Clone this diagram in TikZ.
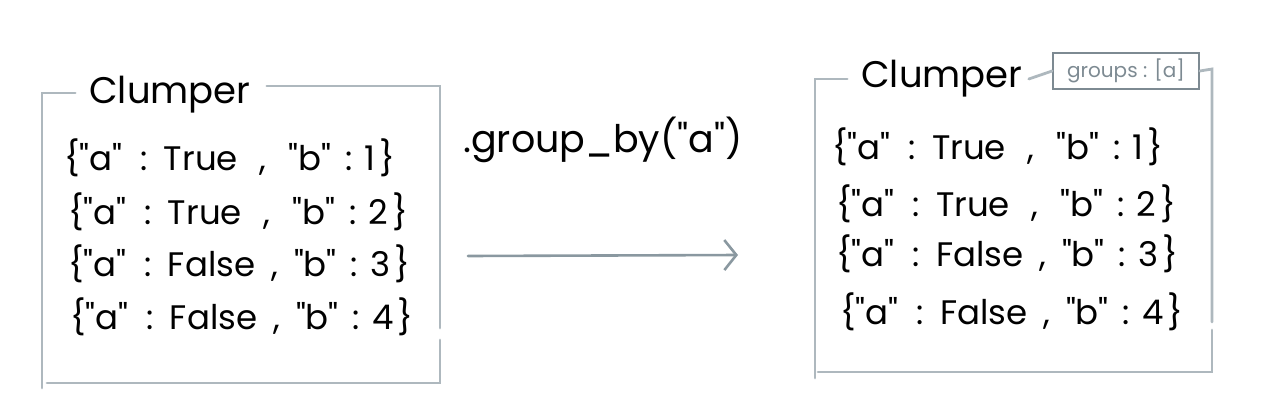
\documentclass[tikz,border=0pt]{standalone}
\usepackage{fontspec}
\setmainfont{Poppins}[Ligatures=TeXOff]
\usetikzlibrary{arrows.meta}
\definecolor{boxgray}{HTML}{AEB8BE}
\definecolor{arrgray}{HTML}{8A98A0}
\definecolor{tagray}{HTML}{7D8A92}
\newcommand\qq{"}
\newcommand\rowx[3]{\{\qq a\qq\hspace{18pt}:\hspace{16pt}#1\hspace{#3},\hspace{#3}\qq b\qq\hspace{14pt}:\hspace{12pt}#2\hspace{4pt}\}}
\begin{document}
\begin{tikzpicture}[x=1pt,y=-1pt,
  frame/.style={draw=boxgray,line width=2.8pt,line cap=round},
  rowtxt/.style={font=\fontsize{34}{36}\selectfont,anchor=west,inner sep=0pt},
  title/.style={font=\fontsize{37}{40}\selectfont,inner sep=0pt},
  tag/.style={draw=tagray,line width=1.8pt,font=\fontsize{20}{22}\selectfont,text=tagray,inner sep=4pt,minimum height=36pt,minimum width=146pt}]
\useasboundingbox (0,0) rectangle (1271,410);
% left clumper
\node[title] (lt) at (170,95) {Clumper};
\coordinate (l1) at (42,93);
\coordinate (l2) at (42,388);
\coordinate (l3) at (440,383);
\coordinate (l4) at (440,86);
\draw[frame] ([xshift=-14pt,yshift=2pt]lt.west) -- (l1) -- (l2);
\draw[frame] (47,383) -- (l3) -- (440,340);
\draw[frame] ([xshift=16pt,yshift=9pt]lt.east) -- (l4) -- (440,328);
\node[rowtxt] (la) at (64,158) {\rowx{True}{1}{22pt}};
\node[rowtxt] (lb) at (68,212) {\rowx{True}{2}{22pt}};
\node[rowtxt] (lc) at (68,264) {\rowx{False}{3}{16pt}};
\node[rowtxt] (ld) at (70,317) {\rowx{False}{4}{16pt}};
% method
\node[font=\fontsize{38}{40}\selectfont,inner sep=0pt] (m) at (603,140) {.group\_by(\qq a\qq)};
\coordinate (as) at (468,256);
\coordinate (ae) at (738,255);
\draw[draw=arrgray,line width=2.6pt,line cap=round,-{Straight Barb[length=12pt,width=30pt,line width=2.6pt]}] (as) -- (ae);
% right clumper
\node[title] (rt) at (942,79) {Clumper};
\node[tag] (g) at (1126,71) {groups : [a]};
\coordinate (r1) at (815,79);
\coordinate (r2) at (815,378);
\coordinate (r3) at (1212,372);
\coordinate (r4) at (1212,69);
\draw[frame] ([xshift=-14pt]rt.west) -- (r1) -- (r2);
\draw[frame] (818,372) -- (r3) -- (1212,330);
\draw[frame] ([xshift=6pt]rt.east) -- (g.west);
\draw[frame] (g.east) -- (r4) -- (1212,322);
\node[rowtxt] (ra) at (832,147) {\rowx{True}{1}{22pt}};
\node[rowtxt] (rb) at (836,204) {\rowx{True}{2}{22pt}};
\node[rowtxt] (rc) at (836,254) {\rowx{False}{3}{16pt}};
\node[rowtxt] (rd) at (840,312) {\rowx{False}{4}{16pt}};
\end{tikzpicture}
\end{document}
